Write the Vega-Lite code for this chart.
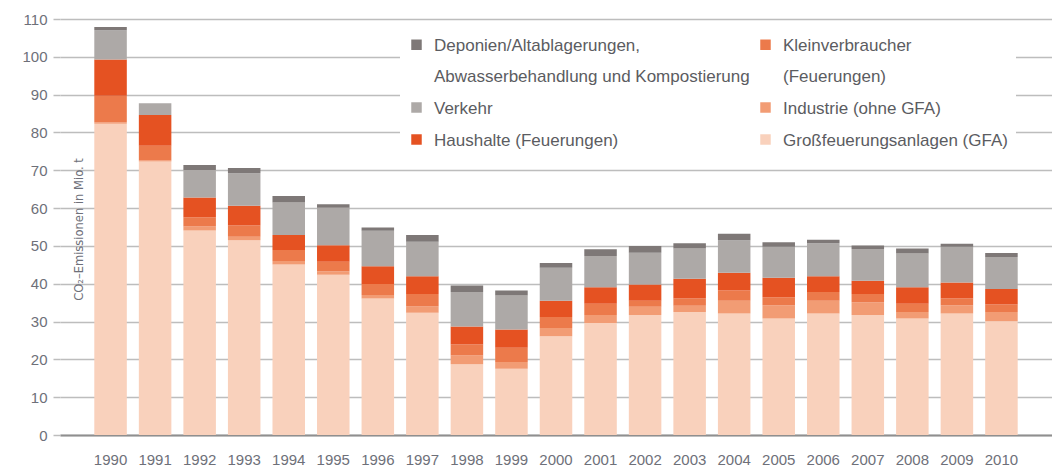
{
  "$schema": "https://vega.github.io/schema/vega-lite/v6.json",
  "width": 992,
  "height": 416,
  "autosize": {"type": "none"},
  "padding": {"left": 60, "top": 19, "right": 0, "bottom": 33},
  "background": "white",
  "data": {"values": [
    {"jahr":"1990","sektor":"1 GFA","wert":82.3},{"jahr":"1990","sektor":"2 Industrie","wert":0.4},{"jahr":"1990","sektor":"3 Kleinverbraucher","wert":7.0},{"jahr":"1990","sektor":"4 Haushalte","wert":9.6},{"jahr":"1990","sektor":"5 Verkehr","wert":7.7},{"jahr":"1990","sektor":"6 Deponien","wert":0.9},
    {"jahr":"1991","sektor":"1 GFA","wert":72.3},{"jahr":"1991","sektor":"2 Industrie","wert":0.3},{"jahr":"1991","sektor":"3 Kleinverbraucher","wert":3.9},{"jahr":"1991","sektor":"4 Haushalte","wert":8.1},{"jahr":"1991","sektor":"5 Verkehr","wert":3.1},{"jahr":"1991","sektor":"6 Deponien","wert":0.0},
    {"jahr":"1992","sektor":"1 GFA","wert":54.1},{"jahr":"1992","sektor":"2 Industrie","wert":1.0},{"jahr":"1992","sektor":"3 Kleinverbraucher","wert":2.5},{"jahr":"1992","sektor":"4 Haushalte","wert":5.2},{"jahr":"1992","sektor":"5 Verkehr","wert":7.3},{"jahr":"1992","sektor":"6 Deponien","wert":1.3},
    {"jahr":"1993","sektor":"1 GFA","wert":51.5},{"jahr":"1993","sektor":"2 Industrie","wert":0.9},{"jahr":"1993","sektor":"3 Kleinverbraucher","wert":3.0},{"jahr":"1993","sektor":"4 Haushalte","wert":5.2},{"jahr":"1993","sektor":"5 Verkehr","wert":8.6},{"jahr":"1993","sektor":"6 Deponien","wert":1.4},
    {"jahr":"1994","sektor":"1 GFA","wert":45.1},{"jahr":"1994","sektor":"2 Industrie","wert":0.9},{"jahr":"1994","sektor":"3 Kleinverbraucher","wert":2.9},{"jahr":"1994","sektor":"4 Haushalte","wert":4.0},{"jahr":"1994","sektor":"5 Verkehr","wert":8.6},{"jahr":"1994","sektor":"6 Deponien","wert":1.7},
    {"jahr":"1995","sektor":"1 GFA","wert":42.4},{"jahr":"1995","sektor":"2 Industrie","wert":0.9},{"jahr":"1995","sektor":"3 Kleinverbraucher","wert":2.5},{"jahr":"1995","sektor":"4 Haushalte","wert":4.4},{"jahr":"1995","sektor":"5 Verkehr","wert":9.9},{"jahr":"1995","sektor":"6 Deponien","wert":0.9},
    {"jahr":"1996","sektor":"1 GFA","wert":36.1},{"jahr":"1996","sektor":"2 Industrie","wert":0.9},{"jahr":"1996","sektor":"3 Kleinverbraucher","wert":2.9},{"jahr":"1996","sektor":"4 Haushalte","wert":4.7},{"jahr":"1996","sektor":"5 Verkehr","wert":9.4},{"jahr":"1996","sektor":"6 Deponien","wert":0.9},
    {"jahr":"1997","sektor":"1 GFA","wert":32.3},{"jahr":"1997","sektor":"2 Industrie","wert":1.7},{"jahr":"1997","sektor":"3 Kleinverbraucher","wert":3.3},{"jahr":"1997","sektor":"4 Haushalte","wert":4.7},{"jahr":"1997","sektor":"5 Verkehr","wert":9.1},{"jahr":"1997","sektor":"6 Deponien","wert":1.8},
    {"jahr":"1998","sektor":"1 GFA","wert":18.7},{"jahr":"1998","sektor":"2 Industrie","wert":2.3},{"jahr":"1998","sektor":"3 Kleinverbraucher","wert":2.9},{"jahr":"1998","sektor":"4 Haushalte","wert":4.8},{"jahr":"1998","sektor":"5 Verkehr","wert":9.1},{"jahr":"1998","sektor":"6 Deponien","wert":1.7},
    {"jahr":"1999","sektor":"1 GFA","wert":17.5},{"jahr":"1999","sektor":"2 Industrie","wert":1.8},{"jahr":"1999","sektor":"3 Kleinverbraucher","wert":3.8},{"jahr":"1999","sektor":"4 Haushalte","wert":4.8},{"jahr":"1999","sektor":"5 Verkehr","wert":9.0},{"jahr":"1999","sektor":"6 Deponien","wert":1.3},
    {"jahr":"2000","sektor":"1 GFA","wert":26.1},{"jahr":"2000","sektor":"2 Industrie","wert":2.2},{"jahr":"2000","sektor":"3 Kleinverbraucher","wert":2.9},{"jahr":"2000","sektor":"4 Haushalte","wert":4.3},{"jahr":"2000","sektor":"5 Verkehr","wert":8.7},{"jahr":"2000","sektor":"6 Deponien","wert":1.3},
    {"jahr":"2001","sektor":"1 GFA","wert":29.6},{"jahr":"2001","sektor":"2 Industrie","wert":2.1},{"jahr":"2001","sektor":"3 Kleinverbraucher","wert":3.0},{"jahr":"2001","sektor":"4 Haushalte","wert":4.4},{"jahr":"2001","sektor":"5 Verkehr","wert":8.2},{"jahr":"2001","sektor":"6 Deponien","wert":1.8},
    {"jahr":"2002","sektor":"1 GFA","wert":31.7},{"jahr":"2002","sektor":"2 Industrie","wert":2.2},{"jahr":"2002","sektor":"3 Kleinverbraucher","wert":1.6},{"jahr":"2002","sektor":"4 Haushalte","wert":4.3},{"jahr":"2002","sektor":"5 Verkehr","wert":8.4},{"jahr":"2002","sektor":"6 Deponien","wert":1.8},
    {"jahr":"2003","sektor":"1 GFA","wert":32.5},{"jahr":"2003","sektor":"2 Industrie","wert":1.7},{"jahr":"2003","sektor":"3 Kleinverbraucher","wert":1.9},{"jahr":"2003","sektor":"4 Haushalte","wert":5.2},{"jahr":"2003","sektor":"5 Verkehr","wert":8.0},{"jahr":"2003","sektor":"6 Deponien","wert":1.4},
    {"jahr":"2004","sektor":"1 GFA","wert":32.1},{"jahr":"2004","sektor":"2 Industrie","wert":3.4},{"jahr":"2004","sektor":"3 Kleinverbraucher","wert":2.7},{"jahr":"2004","sektor":"4 Haushalte","wert":4.7},{"jahr":"2004","sektor":"5 Verkehr","wert":8.6},{"jahr":"2004","sektor":"6 Deponien","wert":1.7},
    {"jahr":"2005","sektor":"1 GFA","wert":30.8},{"jahr":"2005","sektor":"2 Industrie","wert":3.5},{"jahr":"2005","sektor":"3 Kleinverbraucher","wert":2.1},{"jahr":"2005","sektor":"4 Haushalte","wert":5.2},{"jahr":"2005","sektor":"5 Verkehr","wert":8.2},{"jahr":"2005","sektor":"6 Deponien","wert":1.2},
    {"jahr":"2006","sektor":"1 GFA","wert":32.1},{"jahr":"2006","sektor":"2 Industrie","wert":3.4},{"jahr":"2006","sektor":"3 Kleinverbraucher","wert":2.3},{"jahr":"2006","sektor":"4 Haushalte","wert":4.2},{"jahr":"2006","sektor":"5 Verkehr","wert":8.7},{"jahr":"2006","sektor":"6 Deponien","wert":0.9},
    {"jahr":"2007","sektor":"1 GFA","wert":31.7},{"jahr":"2007","sektor":"2 Industrie","wert":3.4},{"jahr":"2007","sektor":"3 Kleinverbraucher","wert":2.2},{"jahr":"2007","sektor":"4 Haushalte","wert":3.5},{"jahr":"2007","sektor":"5 Verkehr","wert":8.4},{"jahr":"2007","sektor":"6 Deponien","wert":0.9},
    {"jahr":"2008","sektor":"1 GFA","wert":30.8},{"jahr":"2008","sektor":"2 Industrie","wert":1.7},{"jahr":"2008","sektor":"3 Kleinverbraucher","wert":2.2},{"jahr":"2008","sektor":"4 Haushalte","wert":4.4},{"jahr":"2008","sektor":"5 Verkehr","wert":8.9},{"jahr":"2008","sektor":"6 Deponien","wert":1.3},
    {"jahr":"2009","sektor":"1 GFA","wert":32.1},{"jahr":"2009","sektor":"2 Industrie","wert":2.2},{"jahr":"2009","sektor":"3 Kleinverbraucher","wert":1.8},{"jahr":"2009","sektor":"4 Haushalte","wert":4.2},{"jahr":"2009","sektor":"5 Verkehr","wert":9.5},{"jahr":"2009","sektor":"6 Deponien","wert":0.8},
    {"jahr":"2010","sektor":"1 GFA","wert":30.1},{"jahr":"2010","sektor":"2 Industrie","wert":2.4},{"jahr":"2010","sektor":"3 Kleinverbraucher","wert":2.0},{"jahr":"2010","sektor":"4 Haushalte","wert":4.1},{"jahr":"2010","sektor":"5 Verkehr","wert":8.5},{"jahr":"2010","sektor":"6 Deponien","wert":1.0}
  ]},
  "mark": {"type": "bar"},
  "encoding": {
    "x": {
      "field": "jahr", "type": "ordinal",
      "scale": {"paddingInner": 0.27, "paddingOuter": 0.77},
      "axis": {
        "title": null, "ticks": false, "labelAngle": 0,
        "labelPadding": 17, "labelFontSize": 15, "labelColor": "#6e7079",
        "domainColor": "#8f8f8f", "domainWidth": 2
      }
    },
    "y": {
      "field": "wert", "type": "quantitative", "stack": "zero",
      "scale": {"domain": [0, 110], "nice": false, "zero": true},
      "axis": {
        "values": [0,10,20,30,40,50,60,70,80,90,100,110],
        "title": "CO₂–Emissionen in Mio. t",
        "titleX": 18, "titleY": 210, "titleAngle": 270,
        "titleAlign": "center", "titleBaseline": "middle",
        "titleFont": "DejaVu Sans Condensed",
        "titleFontSize": 12.8, "titleFontWeight": "normal", "titleColor": "#6e7079",
        "domain": false, "tickSize": 7, "tickColor": "#bdbdbd", "tickWidth": 1.5,
        "gridColor": "#bdbdbd", "gridWidth": 1.5,
        "labelPadding": 6, "labelFontSize": 15, "labelColor": "#6e7079"
      }
    },
    "color": {
      "field": "sektor", "type": "nominal",
      "scale": {
        "domain": ["6 Deponien", "5 Verkehr", "4 Haushalte", "3 Kleinverbraucher", "2 Industrie", "1 GFA"],
        "range": ["#7e7877", "#ada9a7", "#e55222", "#ec7a4b", "#f29c74", "#f9d1bc"]
      },
      "legend": {
        "title": null, "orient": "none", "legendX": 340, "legendY": 9,
        "direction": "vertical", "columns": 2, "columnPadding": 7, "rowPadding": 14,
        "padding": 8, "fillColor": "white",
        "symbolType": "square", "symbolSize": 110, "symbolStrokeWidth": 0, "symbolOpacity": 1,
        "labelFontSize": 17, "labelColor": "#5b5c61", "labelOffset": 9, "labelLimit": 0,
        "labelBaseline": "top",
        "labelExpr": "datum.value == '6 Deponien' ? ['Deponien/Altablagerungen,', 'Abwasserbehandlung und Kompostierung'] : datum.value == '3 Kleinverbraucher' ? ['Kleinverbraucher', '(Feuerungen)'] : datum.value == '5 Verkehr' ? 'Verkehr' : datum.value == '2 Industrie' ? 'Industrie (ohne GFA)' : datum.value == '4 Haushalte' ? 'Haushalte (Feuerungen)' : 'Großfeuerungsanlagen (GFA)\u00a0\u00a0\u00a0\u00a0\u00a0\u00a0\u00a0\u00a0\u00a0\u00a0\u00a0\u00a0'",
        "encode": {
          "labels": {"update": {"dy": {"value": -7}, "lineHeight": {"value": 31}}}
        }
      }
    },
    "order": {"field": "sektor", "sort": "ascending"}
  },
  "config": {
    "font": "Liberation Sans",
    "view": {"stroke": null}
  }
}
